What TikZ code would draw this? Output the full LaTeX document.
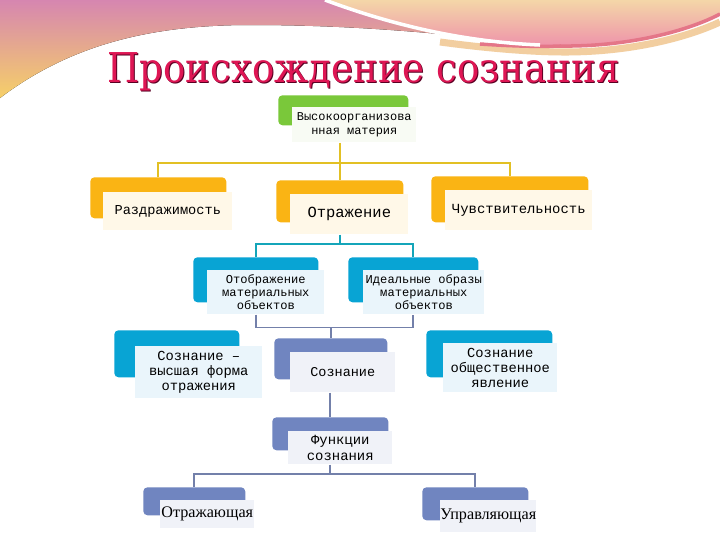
\documentclass[tikz,border=0pt]{standalone}
\usepackage{fontspec}
\usepackage{graphicx}
\newfontfamily\boxfont{Liberation Mono}
\newfontfamily\serifbox{Liberation Serif}
\newfontfamily\titlefont{DejaVu Serif}
\newcommand\px{0.025cm}
\newcommand\fs[2]{\fontsize{#1}{#2}\selectfont}
\definecolor{greenband}{RGB}{122,200,58}
\definecolor{orangeband}{RGB}{250,180,20}
\definecolor{blueband}{RGB}{8,164,212}
\definecolor{slateband}{RGB}{112,133,192}
\definecolor{greenpale}{RGB}{248,251,244}
\definecolor{orangepale}{RGB}{255,248,232}
\definecolor{bluepale}{RGB}{234,245,251}
\definecolor{slatepale}{RGB}{240,242,248}
\definecolor{linegold}{RGB}{226,192,36}
\definecolor{lineteal}{RGB}{20,165,185}
\definecolor{lineslate}{RGB}{115,128,170}
\definecolor{titlered}{RGB}{222,22,84}
\definecolor{titleshade}{RGB}{90,0,35}
\definecolor{pinktop}{RGB}{214,134,176}
\definecolor{yellowbot}{RGB}{246,208,104}
\definecolor{peachtop}{RGB}{244,214,168}
\definecolor{pinkbot}{RGB}{238,146,170}
\definecolor{rimred}{RGB}{228,118,136}
\definecolor{rimbeige}{RGB}{242,206,160}
\tikzset{
  band/.style={fill=#1, rounded corners=3pt, anchor=north west, inner sep=0pt},
  panel/.style={fill=#1, anchor=north west, inner sep=0pt, align=center},
  goldline/.style={draw=linegold, line width=1.3pt},
  tealline/.style={draw=lineteal, line width=1.3pt},
  slateline/.style={draw=lineslate, line width=1.3pt}
}

\begin{document}
\begin{tikzpicture}[x=\px,y=-\px]
\useasboundingbox (0,0) rectangle (720,540);
\fill[white] (0,0) rectangle (720,540);

\fill[top color=pinktop, bottom color=yellowbot] (0,0) -- (0,98) .. controls (70,45) and (150,25) .. (250,25) .. controls (360,25) and (450,34) .. (540,45) .. controls (470,40) and (400,28) .. (325,0) -- cycle;
\draw[rimbeige, line width=5pt] (440,42) .. controls (500,50) and (540,52) .. (565,52) .. controls (635,52) and (690,36) .. (720,22);
\fill[top color=peachtop, bottom color=pinkbot] (325,0) .. controls (400,28) and (480,44) .. (560,46) .. controls (630,47) and (690,30) .. (720,14) -- (720,0) -- cycle;
\draw[rimred, line width=2.5pt] (480,44) .. controls (510,46) and (540,47) .. (560,46) .. controls (630,47) and (690,30) .. (720,14);
\draw[white, line width=2.5pt] (325,0) .. controls (400,28) and (470,42) .. (540,45);

\node[anchor=base, text=titleshade] (titleshadow) at (364.5,83) {\resizebox{364pt}{21.3pt}{\titlefont Происхождение сознания}};
\node[anchor=base, text=titlered] (title) at (363.5,82) {\resizebox{364pt}{21.3pt}{\titlefont Происхождение сознания}};

\node[band=greenband, minimum width=130*\px, minimum height=30*\px] (matb) at (278,95) {};
\node[panel=greenpale, minimum width=124*\px, minimum height=35*\px, font=\boxfont\fs{8.5}{9.3}] (mat) at (292,107) {Высокоорганизова\\нная материя};

\node[band=orangeband, minimum width=136*\px, minimum height=41*\px] (razdb) at (90,177) {};
\node[panel=orangepale, minimum width=129*\px, minimum height=38*\px, font=\boxfont\fs{9.7}{11}] (razd) at (103,192) {Раздражимость};
\node[band=orangeband, minimum width=127*\px, minimum height=42*\px] (otrb) at (276,180) {};
\node[panel=orangepale, minimum width=118*\px, minimum height=40*\px, font=\boxfont\fs{11}{12}] (otr) at (290,194) {Отражение};
\node[band=orangeband, minimum width=157*\px, minimum height=46*\px] (chuvb) at (431,176) {};
\node[panel=orangepale, minimum width=147*\px, minimum height=40*\px, font=\boxfont\fs{9.9}{11}] (chuv) at (445,190) {Чувствительность};

\node[band=blueband, minimum width=125*\px, minimum height=45*\px] (otobb) at (193,257) {};
\node[panel=bluepale, minimum width=117*\px, minimum height=44*\px, font=\boxfont\fs{8.6}{9.3}] (otob) at (207,270) {Отображение\\материальных\\объектов};
\node[band=blueband, minimum width=130*\px, minimum height=45*\px] (idealb) at (348,257) {};
\node[panel=bluepale, minimum width=121*\px, minimum height=44*\px, font=\boxfont\fs{8.6}{9.3}] (ideal) at (363,270) {Идеальные образы\\материальных\\объектов};

\node[band=blueband, minimum width=125*\px, minimum height=47*\px] (vysshb) at (114,330) {};
\node[panel=bluepale, minimum width=127*\px, minimum height=52*\px, font=\boxfont\fs{9.8}{10.6}] (vyssh) at (135,346) {Сознание –\\высшая форма\\отражения};
\node[band=slateband, minimum width=113*\px, minimum height=41*\px] (sozb) at (274,338) {};
\node[panel=slatepale, minimum width=105*\px, minimum height=40*\px, font=\boxfont\fs{9.6}{11}] (soz) at (290,352) {Сознание};
\node[band=blueband, minimum width=126*\px, minimum height=47*\px] (obshb) at (426,330) {};
\node[panel=bluepale, minimum width=114*\px, minimum height=49*\px, font=\boxfont\fs{9.8}{10.6}] (obsh) at (443,343) {Сознание\\общественное\\явление};

\node[band=slateband, minimum width=116*\px, minimum height=33*\px] (funkb) at (272,417) {};
\node[panel=slatepale, minimum width=104*\px, minimum height=33*\px, font=\boxfont\fs{9.9}{11.3}] (funk) at (288,431) {Функции\\сознания};

\node[band=slateband, minimum width=102*\px, minimum height=28*\px] (otrazhb) at (143,487) {};
\node[panel=slatepale, minimum width=94*\px, minimum height=28*\px, font=\serifbox\fs{11.5}{12}] (otrazh) at (160,500) {Отражающая};
\node[band=slateband, minimum width=106*\px, minimum height=33*\px] (upravb) at (422,487) {};
\node[panel=slatepale, minimum width=96*\px, minimum height=32*\px, font=\serifbox\fs{11.5}{12}] (uprav) at (440,500) {Управляющая};

\draw[goldline] (mat.south -| otrb.north) -- (otrb.north);
\draw[goldline] (razdb.north) -- ++(0,-14) -| (chuvb.north);
\draw[tealline] (otr.south -| otrb.north) -- ++(0,10);
\draw[tealline] (otobb.north) -- ++(0,-13) -| (idealb.north);
\draw[slateline] (otob.south -| otobb.north) -- ++(0,13) -| (ideal.south -| idealb.north);
\draw[slateline] (sozb.north) -- ++(0,-11);
\draw[slateline] (soz.south -| funkb.north) -- (funkb.north);
\draw[slateline] (funk.south -| funkb.north) -- ++(0,10);
\draw[slateline] (otrazhb.north) -- ++(0,-13) -| (upravb.north);
\end{tikzpicture}
\end{document}
